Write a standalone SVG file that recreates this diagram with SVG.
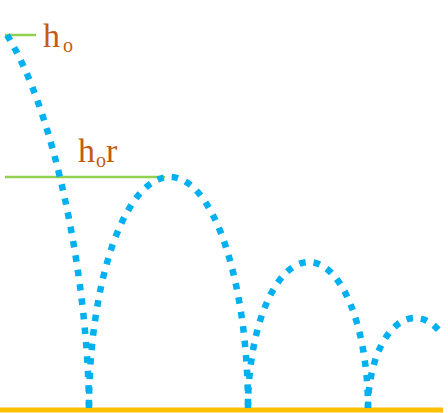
<svg xmlns="http://www.w3.org/2000/svg" width="448" height="413" viewBox="0 0 448 413">
<style>
.lvl{stroke:#92D050;stroke-width:2.5;fill:none}
.ball{stroke:#00B0F0;stroke-width:6.5;fill:none;stroke-dasharray:6.5 8;stroke-linecap:butt}
.lbl{font-family:"Liberation Serif",serif;fill:#C55A11}
.big{font-size:34px}
.sub{font-size:20px}
</style>
<rect width="448" height="413" fill="#fff"/>
<g id="ground"><line x1="0" y1="410" x2="443" y2="410" stroke="#FFC000" stroke-width="5"/></g>
<g id="level-ho"><line class="lvl" x1="5" y1="35" x2="36" y2="35"/><text class="lbl"><tspan class="big" x="43" y="47">h</tspan><tspan class="sub" x="63" y="52">o</tspan></text></g>
<g id="level-hor"><line class="lvl" x1="5" y1="177" x2="165" y2="177"/><text class="lbl"><tspan class="big" x="78" y="162">h</tspan><tspan class="sub" x="96" y="167">o</tspan><tspan class="big" x="106" y="162">r</tspan></text></g>
<g id="connectors">
<path class="ball" d="M7,35 C55,112 88,280 89,408"/>
<path class="ball" d="M89,408 A81,231 0 0 1 170,177 A78,231 0 0 1 248,408"/>
<path class="ball" d="M248,408 A61,146 0 0 1 309,262 A59,146 0 0 1 368,408"/>
<path class="ball" d="M368,408 A47,90 0 0 1 415,318 A47,90 0 0 1 441,333"/>
</g>
</svg>
